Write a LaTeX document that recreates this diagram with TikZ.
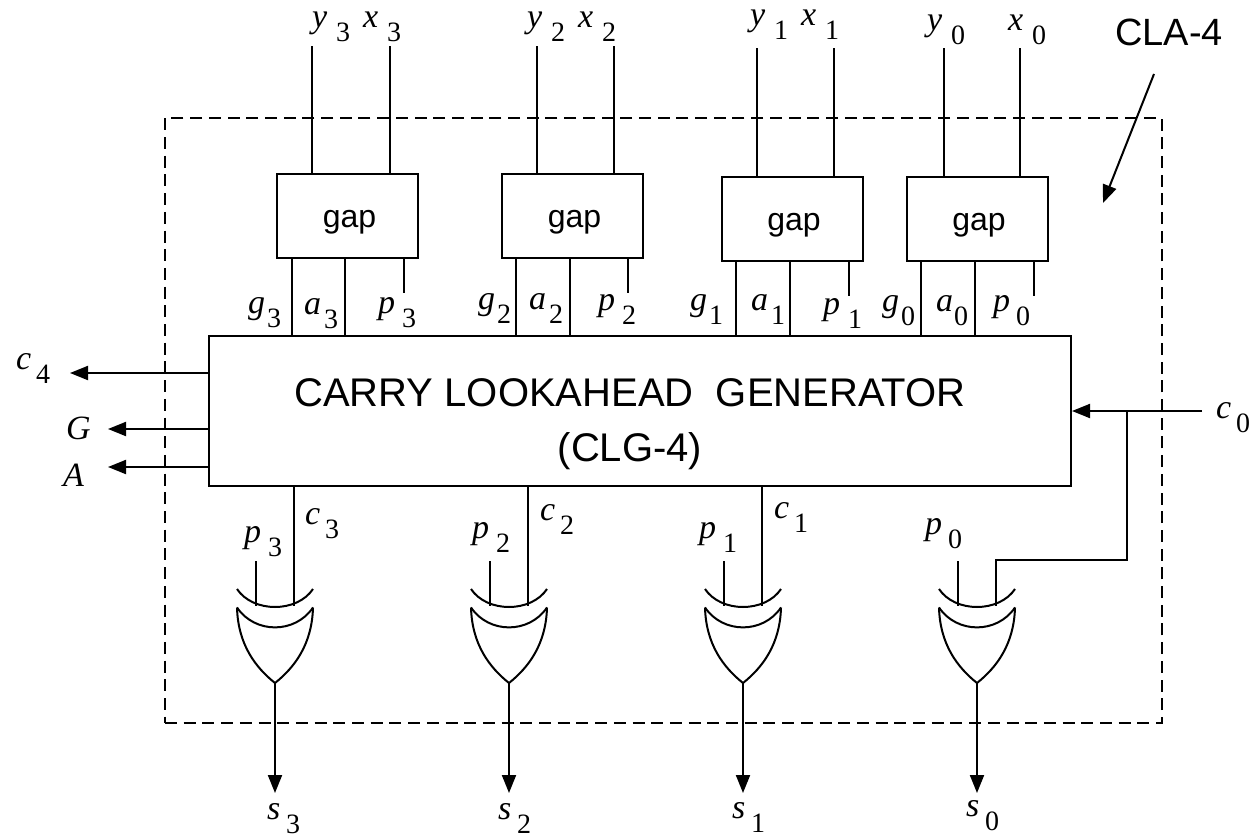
\documentclass[tikz,border=0pt]{standalone}
\usepackage{fontspec}
\setmainfont{Liberation Serif}
\newfontfamily\arialfont{Liberation Sans}
\usetikzlibrary{arrows.meta, positioning}
\newcommand{\sig}[3]{\makebox[#3pt][l]{\fontsize{34}{36}\selectfont\itshape #1}\raisebox{-14pt}{#2}}
\begin{document}
\begin{tikzpicture}[
  x=1pt, y=-1pt,
  wire/.style={line width=2pt},
  arr/.style={line width=2pt, -{Triangle[length=18pt, width=14pt]}},
  gapbox/.style={rectangle, draw, line width=2pt,
    minimum width=141pt, minimum height=84pt, inner sep=0pt,
    text height=26pt, text depth=4pt,
    font=\arialfont\fontsize{32}{34}\selectfont},
  clgbox/.style={rectangle, draw, line width=2pt,
    minimum width=862pt, minimum height=150pt, inner sep=0pt},
  clabox/.style={rectangle, draw, dash pattern=on 12pt off 6.7pt, line width=1.7pt,
    minimum width=997pt, minimum height=605pt, inner sep=0pt},
  lbl/.style={anchor=base west, inner sep=0pt,
    font=\fontsize{28}{30}\selectfont},
  head/.style={inner sep=0pt, align=center,
    font=\arialfont\fontsize{40}{55}\selectfont},
  xorgate/.pic={
    \draw[wire] (-38,0) .. controls (-22,24) and (22,24) .. (38,0);
    \draw[wire] (-38,18.5) .. controls (-20,45) and (20,45) .. (38,18.5);
    \draw[wire] (-38,18.5) .. controls (-37,55) and (-20,78) .. (0,94)
      .. controls (20,78) and (37,55) .. (38,18.5);
    \coordinate (-inp) at (-19,16.5);
    \coordinate (-inc) at (19,16.5);
    \coordinate (-out) at (0,94);
  }
]
  \useasboundingbox (0,0) rectangle (1255,838);

  \node[clabox] (cla) at (663.5,420.5) {};
  \node[clgbox] (clg) at (640,411) {};
  \node[head] (clgtext) at (630,424)
    {CARRY LOOKAHEAD\ \ GENERATOR\\(CLG-4)};
  \node[head, anchor=base west, font=\arialfont\fontsize{38}{40}\selectfont]
    (title) at (1115,45) {CLA-4};

  % gap blocks
  \foreach \n/\cx/\cy/\yx/\xx/\gx/\ax/\px/\pend/\top in {
      3/347.5/216/312/390/292/345/404/293/46,
      2/572.5/216/537/614/516/570/628/293/46,
      1/792/219/757/834/736/790/849/296/48,
      0/977/219/944/1020/921/975/1034/296/48} {
    \node[gapbox] (gap\n) at (\cx,\cy) {\hspace*{4pt}gap};
    \coordinate (y\n) at (\yx,\top);
    \coordinate (x\n) at (\xx,\top);
    \coordinate (g\n) at (\gx,\pend);
    \coordinate (a\n) at (\ax,\pend);
    \coordinate (p\n) at (\px,\pend);
    \draw[wire] (y\n) -- (y\n |- gap\n.north);
    \draw[wire] (x\n) -- (x\n |- gap\n.north);
    \draw[wire] (g\n |- gap\n.south) -- (g\n |- clg.north);
    \draw[wire] (a\n |- gap\n.south) -- (a\n |- clg.north);
    \draw[wire] (p\n |- gap\n.south) -- (p\n);
  }

  % xor gates
  \foreach \n/\cx in {3/275, 2/509, 1/743, 0/977} {
    \pic (xor\n) at (\cx,589) {xorgate};
    \coordinate (pin\n) at (\cx-19,561);
    \coordinate (sout\n) at (\cx,793);
    \draw[wire] (pin\n) -- (xor\n-inp);
    \draw[arr] (xor\n-out) -- (sout\n);
  }
  \foreach \n in {3, 2, 1}
    \draw[wire] (xor\n-inc |- clg.south) -- (xor\n-inc);

  % carry in
  \coordinate (cin) at (1202,411);
  \coordinate (cdrop) at (1127,411);
  \draw[arr] (cin) -- (clg.east |- cin);
  \draw[wire] (cdrop) -- (cdrop |- 0,560) -- (xor0-inc |- 0,560) -- (xor0-inc);

  % outputs on the left
  \coordinate (cout) at (70,373);
  \coordinate (gout) at (108,429);
  \coordinate (aout) at (108,467);
  \draw[arr] (clg.west |- cout) -- (cout);
  \draw[arr] (clg.west |- gout) -- (gout);
  \draw[arr] (clg.west |- aout) -- (aout);

  % pointer to the dashed box
  \coordinate (ptrs) at (1154,74);
  \coordinate (ptre) at (1103,203);
  \draw[arr] (ptrs) -- (ptre);

  % labels
  \foreach \name/\a/\b/\off/\lx/\ly in {
      ly3/y/3/24/312/27, lx3/x/3/24/363/27, ly2/y/2/24/527/27, lx2/x/2/24/578/27,
      ly1/y/1/24/750/25, lx1/x/1/24/801/25, ly0/y/0/24/927/30, lx0/x/0/24/1008/30,
      lg3/g/3/19/248/313, la3/a/3/20/304/314, lp3/p/3/24/378/313,
      lg2/g/2/19/478/309, la2/a/2/20/529/309, lp2/p/2/24/598/310,
      lg1/g/1/19/690/310, la1/a/1/20/751/310, lp1/p/1/25/823/314,
      lg0/g/0/19/882/311, la0/a/0/18/936/311, lp0/p/0/23/993/311,
      lc4/c/4/20/16/369, lc0/c/0/20/1216/418,
      lc3/c/3/20/305/524, lc2/c/2/20/540/520, lc1/c/1/20/774/518,
      lq3/p/3/24/244/542, lq2/p/2/24/472/538, lq1/p/1/24/699/538, lq0/p/0/23/925/534,
      ls3/s/3/19/267/819, ls2/s/2/19/498/819, ls1/s/1/19/732/818, ls0/s/0/19/966/816}
    \node[lbl] (\name) at (\lx,\ly) {\sig{\a}{\b}{\off}};
  \node[lbl, font=\fontsize{34}{36}\selectfont] (lG) at (66,439) {\itshape G};
  \node[lbl, font=\fontsize{34}{36}\selectfont] (lA) at (63,486) {\itshape A};
\end{tikzpicture}
\end{document}
